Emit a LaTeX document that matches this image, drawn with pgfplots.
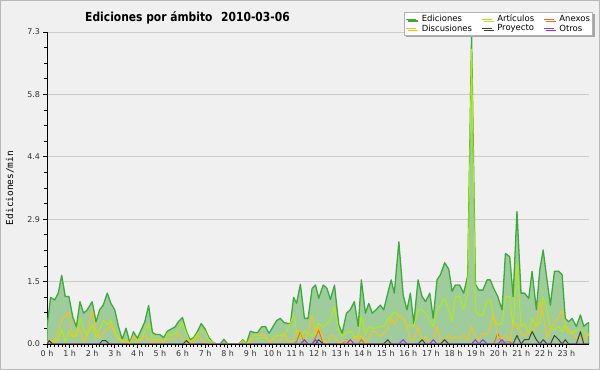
\documentclass[border=0pt]{standalone}
\usepackage{fontspec}
\setmainfont{DejaVu Sans}
\newfontfamily\titlefam{DejaVu Sans}[FakeStretch=0.86]
\newfontfamily\monofam{DejaVu Sans Mono}
\usepackage{pgfplots}
\pgfplotsset{compat=1.18}
\usetikzlibrary{shadows}
\definecolor{bgc}{HTML}{F0F0F0}
\definecolor{borderc}{HTML}{B8B8B8}
\definecolor{gridc}{HTML}{CCCCCC}
\definecolor{edline}{HTML}{3CAA3C}
\definecolor{edfill}{HTML}{9FCC9B}
\definecolor{artc}{HTML}{B4EA10}
\definecolor{anexc}{HTML}{F26A1E}
\definecolor{discc}{HTML}{F7C21A}
\definecolor{proyc}{HTML}{404040}
\definecolor{otrosc}{HTML}{8C32FF}
\begin{document}
\begin{tikzpicture}
\fill[bgc] (-47bp,-26bp) rectangle (553bp,344bp);
\begin{axis}[
  scale only axis, width=542bp, height=312bp,
  at={(0,0)}, anchor=south west,
  xmin=0, xmax=24, ymin=0, ymax=7.3,
  axis x line*=bottom, axis y line*=left,
  axis line style={-, black, line width=1bp},
  tick align=outside,
  major tick length=4bp, minor tick length=3bp,
  every tick/.style={black, line width=0.7bp},
  xtick={0,1,...,23},
  xticklabels={0 h,1 h,2 h,3 h,4 h,5 h,6 h,7 h,8 h,9 h,10 h,11 h,12 h,13 h,14 h,15 h,16 h,17 h,18 h,19 h,20 h,21 h,22 h,23 h},
  minor x tick num=5,
  ytick={0,1.46,2.92,4.38,5.84,7.3},
  yticklabels={0.0,1.5,2.9,4.4,5.8,7.3},
  minor y tick num=3,
  ymajorgrids, major grid style={gridc, line width=0.8bp},
  ticklabel style={font=\fontsize{8}{9}\selectfont, text=black!80},
  xticklabel style={yshift=1bp},
  yticklabel style={xshift=0.5bp},
  /pgf/number format/assume math mode=true,
  title={Ediciones por ámbito\hspace{0.7em}2010-03-06},
  title style={at={(axis description cs:0.2592,1.016)}, anchor=base, font=\titlefam\bfseries\fontsize{12.5}{14}\selectfont},
  ylabel={Ediciones/min},
  ylabel style={font=\monofam\fontsize{9.5}{11}\selectfont, at={(axis description cs:-0.0683,0.5)}, anchor=center},
  legend columns=3,
  legend cell align=left,
  legend image code/.code={\draw[#1, fill=none, line width=0.8bp] (0bp,0bp) -- (10bp,0bp);},
  legend style={at={(axis description cs:0.6587,1.0641)}, anchor=north west,
    draw=black!30, fill=white, line width=0.6bp,
    font=\fontsize{8.5}{9}\selectfont, inner sep=1.5bp, row sep=-1bp,
    nodes={inner sep=1.2bp},
    drop shadow={shadow xshift=2bp, shadow yshift=-2bp, fill=black!35, opacity=1},
    /tikz/every odd column/.append style={column sep=4bp},
    /tikz/every even column/.append style={column sep=8bp}},
  line join=round,
]
\addplot[draw=edline, fill=edfill, line width=1.3bp] coordinates {
(0,0.40)(0.16,1.09)(0.34,1.03)(0.5,1.19)(0.65,1.61)(0.81,1.11)(0.97,1.11)(1.14,0.64)(1.3,0.40)(1.46,0.99)(1.62,0.72)(1.78,0.80)(2.0,0.99)(2.17,0.52)(2.33,0.80)(2.49,0.91)(2.67,1.19)(2.83,0.95)(3.0,0.80)(3.17,0.40)(3.33,0.11)(3.5,0.37)(3.67,0.03)(3.83,0.29)(4.0,0.13)(4.17,0.33)(4.33,0.52)(4.5,0.90)(4.67,0.27)(4.83,0.22)(5.0,0.22)(5.17,0.15)(5.33,0.30)(5.5,0.35)(5.67,0.40)(5.83,0.53)(6.0,0.62)(6.17,0.30)(6.33,0.10)(6.5,0.15)(6.67,0.30)(6.83,0.48)(7.0,0.35)(7.17,0.15)(7.33,0.05)(7.5,0)(7.67,0)(7.83,0.11)(8.0,0)(8.17,0)(8.33,0)(8.5,0)(8.67,0.10)(8.83,0)(9.0,0.30)(9.17,0.27)(9.33,0.27)(9.5,0.40)(9.67,0.41)(9.83,0.25)(10.0,0.40)(10.17,0.55)(10.33,0.60)(10.5,0.50)(10.67,0.48)(10.78,0.48)(10.92,1.09)(11.05,0.95)(11.22,1.40)(11.4,0.60)(11.56,0.60)(11.74,1.30)(11.89,1.38)(12.03,1.07)(12.23,1.38)(12.4,1.30)(12.55,1.04)(12.73,1.38)(12.92,0.45)(13.07,0.25)(13.26,0.72)(13.43,0.80)(13.61,0.99)(13.78,0.41)(13.92,1.50)(14.1,0.72)(14.25,0.95)(14.4,0.72)(14.57,0.80)(14.76,0.91)(14.91,0.80)(15.09,1.19)(15.24,1.50)(15.38,1.19)(15.58,2.39)(15.77,1.15)(15.94,0.80)(16.09,1.19)(16.24,0.48)(16.43,1.50)(16.61,1.11)(16.76,0.99)(16.95,1.19)(17.1,0.60)(17.27,1.50)(17.42,1.62)(17.61,1.90)(17.79,1.75)(17.94,1.23)(18.08,1.38)(18.27,1.38)(18.45,1.19)(18.63,1.60)(18.8,7.25)(18.97,1.40)(19.12,1.26)(19.3,1.26)(19.49,1.50)(19.63,1.50)(19.78,1.30)(19.96,1.11)(20.15,0.80)(20.3,2.12)(20.49,2.04)(20.64,1.11)(20.81,3.10)(20.99,1.19)(21.14,1.19)(21.33,1.07)(21.48,1.70)(21.67,0.80)(21.82,1.74)(21.97,2.20)(22.14,1.50)(22.29,0.91)(22.47,1.70)(22.66,1.70)(22.81,1.62)(22.95,0.60)(23.1,0.52)(23.25,0.60)(23.44,0.41)(23.62,0.68)(23.77,0.41)(23.91,0.48)(24,0.50)
} \closedcycle;
\addlegendentry{Ediciones}
\addplot[draw=artc, line width=1bp] coordinates {
(0,0.05)(0.16,0.1)(0.34,0.05)(0.5,0.1)(0.65,0.35)(0.81,0.05)(0.97,0.3)(1.14,0.15)(1.3,0.2)(1.46,0.6)(1.62,0.35)(1.78,0.2)(2.0,0.45)(2.17,0.15)(2.33,0.35)(2.49,0.56)(2.67,0.45)(2.83,0.55)(3.0,0.3)(3.17,0.15)(3.33,0.05)(3.5,0.1)(3.67,0)(3.83,0.05)(4.0,0.05)(4.17,0.1)(4.33,0.3)(4.5,0.48)(4.67,0.1)(4.83,0.1)(5.0,0.1)(5.17,0.05)(5.33,0.25)(5.5,0.2)(5.67,0.25)(5.83,0.35)(6.0,0.5)(6.17,0.25)(6.33,0.05)(6.5,0.12)(6.67,0.25)(6.83,0.3)(7.0,0.3)(7.17,0.1)(7.33,0.05)(7.5,0)(8.5,0)(8.67,0.08)(8.83,0)(9.0,0.12)(9.17,0.12)(9.33,0.12)(9.5,0.15)(9.67,0.15)(9.83,0.05)(10.0,0.12)(10.17,0.2)(10.33,0.2)(10.5,0.2)(10.67,0.35)(10.78,0.5)(10.92,0.67)(11.05,0.32)(11.22,0.14)(11.4,0.3)(11.56,0.25)(11.74,0.18)(11.89,0.37)(12.03,0.48)(12.23,0.4)(12.4,0.48)(12.55,0.56)(12.73,0.88)(12.92,0.3)(13.07,0.17)(13.26,0.27)(13.43,0.3)(13.61,0.17)(13.78,0.17)(13.92,0.67)(14.1,0.22)(14.25,0.41)(14.4,0.37)(14.57,0.37)(14.76,0.41)(14.91,0.41)(15.09,0.56)(15.24,0.67)(15.38,0.75)(15.58,0.67)(15.77,0.6)(15.94,0.41)(16.09,0.45)(16.24,0.41)(16.43,0.8)(16.61,0.8)(16.76,0.72)(16.95,0.56)(17.1,0.41)(17.27,0.8)(17.42,0.91)(17.61,1.07)(17.79,0.8)(17.94,0.53)(18.08,1.11)(18.27,1.11)(18.45,0.8)(18.63,1.2)(18.8,6.9)(18.97,0.8)(19.12,0.67)(19.3,0.67)(19.49,1.03)(19.63,1.03)(19.78,0.6)(19.96,0.45)(20.15,0.48)(20.3,1.11)(20.49,1.11)(20.64,0.37)(20.81,1.9)(20.99,0.41)(21.14,0.48)(21.33,0.25)(21.48,0.6)(21.67,0.41)(21.82,0.5)(21.97,1.11)(22.14,0.8)(22.29,0.37)(22.47,0.33)(22.66,0.41)(22.81,0.29)(22.95,0.45)(23.1,0.33)(23.25,0.25)(23.44,0.33)(23.62,0.33)(23.77,0.29)(23.91,0.21)(24,0.2)
};
\addlegendentry{Artículos}
\addplot[draw=anexc, line width=1bp] coordinates {
(0,0)(10.92,0)(11.05,0.05)(11.22,0.3)(11.4,0)(11.74,0)(11.89,0.15)(12.03,0.33)(12.23,0)(13.07,0)(13.26,0.1)(13.43,0)(13.78,0)(13.92,0.1)(14.1,0)(19.78,0)(19.96,0.25)(20.15,0)(20.3,0.05)(20.49,0.05)(20.64,0)(24,0)
};
\addlegendentry{Anexos}
\addplot[draw=discc, line width=1bp] coordinates {
(0,0.05)(0.16,0.05)(0.34,0.05)(0.5,0.3)(0.65,0.55)(0.81,0.65)(0.97,0.75)(1.14,0.15)(1.3,0.25)(1.46,0.35)(1.62,0.05)(1.78,0.2)(2.0,0.8)(2.17,0.3)(2.33,0.15)(2.49,0.25)(2.67,0.35)(2.83,0.45)(3.0,0.25)(3.17,0.1)(3.33,0.1)(3.5,0.05)(3.67,0.02)(3.83,0.2)(4.0,0.1)(4.17,0.1)(4.33,0.2)(4.5,0.1)(4.67,0.05)(4.83,0.05)(5.0,0.08)(5.17,0.05)(5.33,0.12)(5.5,0.12)(5.67,0.12)(5.83,0.25)(6.0,0.15)(6.17,0.02)(6.33,0.02)(6.5,0.05)(6.67,0.2)(6.83,0.1)(7.0,0.05)(7.17,0.02)(7.33,0)(8.83,0)(9.0,0.05)(9.17,0.2)(9.33,0.2)(9.5,0.2)(9.67,0.2)(9.83,0.05)(10.0,0.1)(10.17,0.09)(10.33,0.09)(10.5,0.25)(10.67,0.05)(10.78,0.05)(10.92,0.1)(11.05,0.3)(11.22,0.3)(11.4,0.09)(11.56,0.25)(11.74,0.68)(11.89,0.21)(12.03,0.41)(12.23,0.09)(12.4,0.02)(12.55,0.21)(12.73,0.17)(12.92,0.02)(13.07,0.05)(13.26,0.09)(13.43,0.02)(13.61,0.17)(13.78,0.1)(13.92,0.21)(14.1,0.02)(14.25,0.13)(14.4,0.29)(14.57,0.29)(14.76,0.17)(14.91,0.25)(15.09,0.37)(15.24,0.6)(15.38,0.45)(15.58,0.68)(15.77,0.6)(15.94,0.41)(16.09,0.09)(16.24,0.09)(16.43,0.41)(16.61,0.09)(16.76,0.17)(16.95,0.02)(17.1,0.09)(17.27,0.41)(17.42,0.02)(17.61,0.09)(17.79,0.21)(17.94,0.09)(18.08,0.17)(18.27,0.13)(18.45,0.21)(18.63,0.09)(18.8,0.41)(18.97,0.17)(19.12,0.09)(19.3,0.25)(19.49,0.21)(19.63,0.41)(19.78,0.68)(19.96,0.17)(20.15,0.13)(20.3,0.21)(20.49,0.09)(20.64,0.41)(20.81,0.48)(20.99,0.25)(21.14,0.17)(21.33,0.29)(21.48,0.25)(21.67,0.45)(21.82,0.99)(21.97,0.68)(22.14,0.13)(22.29,0.37)(22.47,0.48)(22.66,0.64)(22.81,0.8)(22.95,0.37)(23.1,0.25)(23.25,0.29)(23.44,0.13)(23.62,0.17)(23.77,0.02)(23.91,0.21)(24,0.25)
};
\addlegendentry{Discusiones}
\addplot[draw=proyc, line width=1bp] coordinates {
(0,0)(0.1,0.08)(0.25,0)(2.33,0)(2.45,0.08)(2.6,0.08)(2.75,0)(6.03,0)(6.17,0.08)(6.33,0)(11.89,0)(12.03,0.1)(12.23,0)(14.91,0)(15.09,0.1)(15.24,0)(16.43,0)(16.61,0.1)(16.76,0)(17.42,0)(17.61,0.1)(17.79,0)(20.64,0)(20.81,0.2)(20.99,0)(21.14,0.1)(21.33,0.1)(21.48,0.29)(21.67,0.1)(21.82,0)(21.97,0.1)(22.14,0)(22.29,0)(22.47,0.2)(22.66,0.1)(22.81,0)(22.95,0.1)(23.1,0)(23.44,0)(23.62,0.29)(23.77,0)(24,0)
};
\addlegendentry{Proyecto}
\addplot[draw=otrosc, line width=1bp] coordinates {
(0,0)(11.22,0)(11.4,0.1)(11.56,0)(11.74,0)(11.89,0.1)(12.03,0)(13.26,0)(13.43,0.1)(13.61,0)(15.58,0)(15.77,0.1)(15.94,0)(16.95,0)(17.1,0.1)(17.27,0)(18.8,0)(18.97,0.1)(19.12,0)(19.3,0.1)(19.49,0)(19.96,0)(20.15,0.1)(20.3,0)(24,0)
};
\addlegendentry{Otros}
\draw[black, line width=1bp] (rel axis cs:0,0) -- (rel axis cs:1,0);
\node[font=\fontsize{8}{9}\selectfont, text=black!80] at (axis description cs:0.4668,-0.0545) {wikiscan.org};
\node[font=\fontsize{6}{7}\selectfont, text=black!75] at (axis description cs:0.963,-0.06) {CC BY-SA 3.0};
\end{axis}
\draw[borderc, line width=1.5bp] (-46.25bp,-25.25bp) rectangle (552.25bp,343.25bp);
\pgfresetboundingbox
\useasboundingbox (-47bp,-26bp) rectangle (553bp,344bp);
\end{tikzpicture}
\end{document}
